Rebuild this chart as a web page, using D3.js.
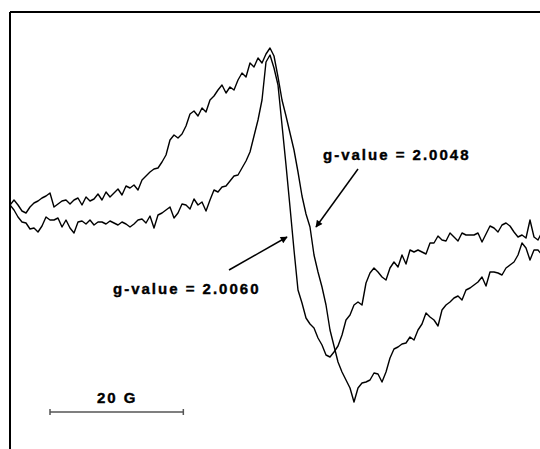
<!DOCTYPE html>
<meta charset="utf-8">
<style>
    body { margin: 0; background: #fff; }
    .trace { fill: none; stroke: #000; stroke-width: 1.4; stroke-linejoin: round; }
    .frame { stroke: #000; stroke-width: 2; }
    .label { font-family: "Liberation Sans", Arial, sans-serif; font-weight: bold;
             font-size: 15px; letter-spacing: 2px; fill: #000;
             stroke: #000; stroke-width: 0.4; }
</style>
<body>
<script src="https://cdn.jsdelivr.net/npm/d3@7"></script>
<script>
    // field axis (gauss), sampled every 0.6 G
    var fieldStart = 3380,
        fieldStep = 0.6;

    // broad signal (g = 2.0048)
    var signalBroad = [
        5, 10, 5, -1, -3, 3, 7, 9, 12, 14,
        17, 3, 6, 9, 10, 6, 10, 12, 5, 13,
        9, 11, 16, 10, 18, 13, 17, 21, 15, 24,
        22, 25, 20, 30, 34, 38, 41, 42, 48, 55,
        70, 75, 72, 76, 84, 96, 99, 94, 102, 98,
        110, 114, 120, 125, 117, 123, 120, 130, 137, 133,
        147, 143, 152, 147, 156, 162, 154, 133, 110, 94,
        77, 60, 38, 14, -4, -17, -45, -62, -77, -95,
        -120, -136, -152, -162, -170, -178, -192, -178, -173, -172,
        -170, -163, -164, -172, -162, -148, -139, -137, -134, -133,
        -127, -130, -120, -114, -103, -107, -110, -116, -100, -95,
        -92, -88, -86, -90, -80, -78, -75, -72, -67, -76,
        -62, -62, -63, -65, -58, -55, -52, -45, -33, -38,
        -50, -40, -40, -45
    ];

    // narrow signal (g = 2.0060)
    var signalNarrow = [
        5, 0, -7, -12, -13, -19, -18, -22, -16, -7,
        -10, -10, -8, -17, -10, -18, -23, -12, -11, -14,
        -10, -15, -12, -12, -14, -11, -13, -15, -12, -14,
        -17, -14, -10, -9, -13, -6, -18, -5, -3, 0,
        3, -8, -3, 6, 5, 1, 11, 5, 8, -1,
        10, 20, 18, 23, 24, 29, 34, 35, 42, 49,
        58, 74, 90, 110, 148, 155, 142, 125, 85, 45,
        3, -40, -80, -93, -108, -114, -118, -128, -135, -145,
        -147, -142, -136, -125, -110, -105, -95, -92, -95, -73,
        -63, -58, -62, -67, -70, -58, -52, -57, -45, -54,
        -40, -42, -40, -42, -44, -33, -33, -26, -30, -31,
        -23, -27, -31, -23, -25, -25, -25, -23, -32, -24,
        -16, -18, -22, -15, -13, -16, -22, -27, -25, -28,
        -10, -27, -30, -22
    ];

    var annotations = [
        { text: 'g-value = 2.0048', x: 323, y: 160, from: [358, 169], to: [316, 227] },
        { text: 'g-value = 2.0060', x: 113, y: 294, from: [229, 270], to: [287, 237] }
    ];

    var scaleBarStart = 3386,
        scaleBarLength = 20,
        scaleBarLabel = '20 G';

    var width = 540,
        height = 449;

    var svg = d3.select('body').append('svg')
        .attr('width', width)
        .attr('height', height);

    var x = d3.scaleLinear().domain([3380, 3459.5]).range([10, 540]);
    var y = d3.scaleLinear().domain([-240, 210]).range([450, 0]);

    svg.append('defs').append('marker')
        .attr('id', 'arrow')
        .attr('viewBox', '0 0 10 10')
        .attr('refX', 9)
        .attr('refY', 5)
        .attr('markerWidth', 9)
        .attr('markerHeight', 7)
        .attr('markerUnits', 'userSpaceOnUse')
        .attr('orient', 'auto')
        .append('path')
        .attr('d', 'M0,0L10,5L0,10Z')
        .attr('fill', '#000');

    svg.append('clipPath').attr('id', 'plot')
        .append('rect').attr('x', 10).attr('y', 12).attr('width', 530).attr('height', 437);

    var line = d3.line()
        .x(function(d, i) { return x(fieldStart + i * fieldStep); })
        .y(function(d) { return y(d); });

    var g = svg.append('g').attr('clip-path', 'url(#plot)');

    g.selectAll('path.trace')
        .data([signalBroad, signalNarrow]).enter()
        .append('path')
        .attr('class', 'trace')
        .attr('d', line);

    // frame: top and left edges only
    svg.append('line').attr('class', 'frame')
        .attr('x1', 10).attr('y1', 12).attr('x2', 540).attr('y2', 12);
    svg.append('line').attr('class', 'frame')
        .attr('x1', 10).attr('y1', 12).attr('x2', 10).attr('y2', 449);

    annotations.forEach(function(a) {
        svg.append('text').attr('class', 'label')
            .attr('x', a.x).attr('y', a.y)
            .text(a.text);
        svg.append('line')
            .attr('x1', a.from[0]).attr('y1', a.from[1])
            .attr('x2', a.to[0]).attr('y2', a.to[1])
            .attr('stroke', '#000')
            .attr('stroke-width', 1.5)
            .attr('marker-end', 'url(#arrow)');
    });

    // 20 G scale bar
    var x0 = x(scaleBarStart),
        x1 = x(scaleBarStart + scaleBarLength),
        barY = 412;
    var bar = svg.append('g').attr('stroke', '#555').attr('stroke-width', 1.5);
    bar.append('line').attr('x1', x0).attr('y1', barY).attr('x2', x1).attr('y2', barY);
    bar.append('line').attr('x1', x0).attr('y1', barY - 3).attr('x2', x0).attr('y2', barY + 3);
    bar.append('line').attr('x1', x1).attr('y1', barY - 3).attr('x2', x1).attr('y2', barY + 3);

    svg.append('text').attr('class', 'label')
        .attr('x', 97).attr('y', 403)
        .text(scaleBarLabel);
</script>
</body>
